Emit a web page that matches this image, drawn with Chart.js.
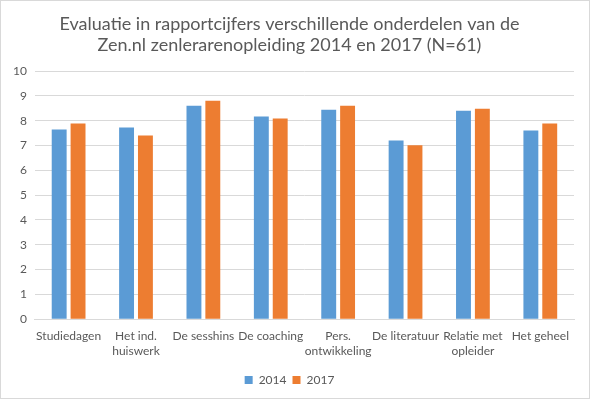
<!DOCTYPE html>
<html>
<head>
<meta charset="utf-8">
<script src="https://cdn.jsdelivr.net/npm/chart.js@4"></script>
<style>
  html, body { margin: 0; padding: 0; background: #fff; }
  #wrap { width: 588px; height: 397px; border: 1px solid #d9d9d9; position: relative; }
</style>
</head>
<body>
<div id="wrap"><canvas id="chart-canvas"></canvas></div>
<script>
const categories = [
  'Studiedagen',
  ['Het ind.', 'huiswerk'],
  'De sesshins',
  'De coaching',
  ['Pers.', 'ontwikkeling'],
  'De literatuur',
  ['Relatie met', 'opleider'],
  'Het geheel'
];
const scores2014 = [7.65, 7.73, 8.61, 8.17, 8.45, 7.21, 8.41, 7.61];
const scores2017 = [7.89, 7.41, 8.81, 8.09, 8.61, 7.01, 8.49, 7.89];
const titleLines = [
  'Evaluatie in rapportcijfers verschillende onderdelen van de',
  'Zen.nl zenlerarenopleiding 2014 en 2017 (N=61)'
];

const textColor = '#595959';
const gridColor = '#d9d9d9';

new Chart(document.getElementById('chart-canvas'), {
  type: 'bar',
  data: {
    labels: categories,
    datasets: [
      { label: '2014', data: scores2014, backgroundColor: '#5b9bd5' },
      { label: '2017', data: scores2017, backgroundColor: '#ed7d31' }
    ]
  },
  options: {
    responsive: true,
    maintainAspectRatio: false,
    animation: false,
    layout: { padding: { left: 4, right: 15, top: 4, bottom: 2 } },
    datasets: {
      bar: { categoryPercentage: 0.56, barPercentage: 0.79 }
    },
    scales: {
      x: {
        grid: { display: false, drawTicks: false },
        border: { color: gridColor },
        ticks: { color: textColor, font: { family: 'Lato', size: 12 }, maxRotation: 0, autoSkip: false, padding: 10 }
      },
      y: {
        min: 0,
        max: 10,
        ticks: { stepSize: 1, color: textColor, font: { family: 'Lato', size: 12 }, padding: 8 },
        grid: { color: gridColor, drawTicks: false },
        border: { display: false }
      }
    },
    plugins: {
      title: {
        display: true,
        text: titleLines,
        color: textColor,
        font: { family: 'Lato', size: 18, weight: 'normal' },
        padding: { top: 8, bottom: 15 },
        lineHeight: 1.4
      },
      legend: {
        position: 'bottom',
        labels: { color: textColor, font: { family: 'Lato', size: 12 }, boxWidth: 8, boxHeight: 8, padding: 6 }
      },
      tooltip: { enabled: false }
    }
  }
});
</script>
</body>
</html>
